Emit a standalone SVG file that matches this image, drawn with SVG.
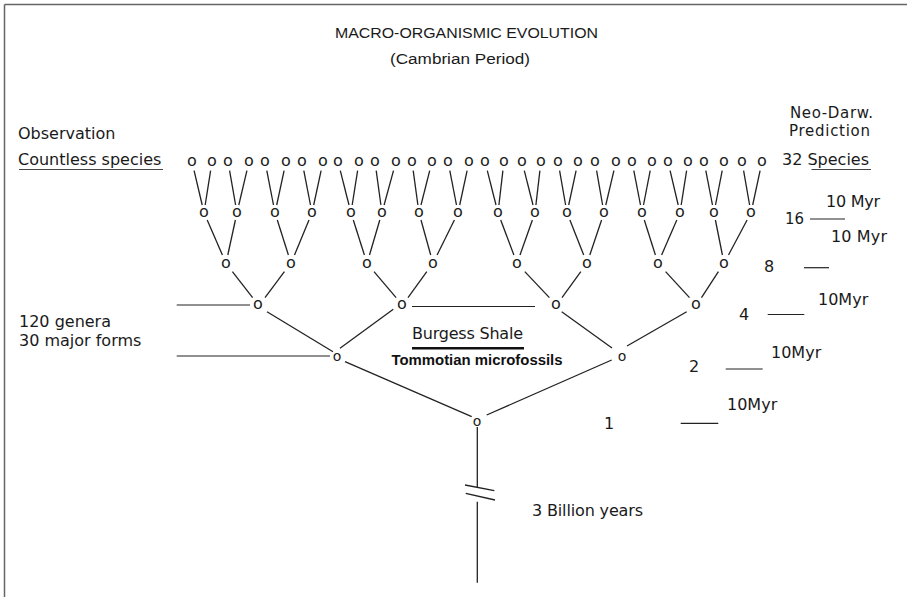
<svg xmlns="http://www.w3.org/2000/svg" width="907" height="597" viewBox="0 0 907 597">
<style>
.t{font-family:"DejaVu Sans",sans-serif;font-size:16px;fill:#1a1a1a}
.ti{font-family:"Liberation Sans",Arial,sans-serif;font-size:15.5px;fill:#1a1a1a}
.b{font-family:"Liberation Sans",Arial,sans-serif;font-size:14.5px;font-weight:bold;fill:#111}
.n{font-family:"DejaVu Sans",sans-serif;font-size:16px;fill:#1a1a1a;text-anchor:middle}
.ns{font-family:"DejaVu Sans",sans-serif;font-size:14px;fill:#1a1a1a;text-anchor:middle}
.e line{stroke:#222;stroke-width:1.3;fill:none}
.r line{stroke:#222;stroke-width:1.2}
.u{stroke:#444;stroke-width:1}
</style>
<rect width="907" height="597" fill="#fff"/>
<g id="border" stroke="#666" stroke-width="1.5" fill="none">
<line x1="4.5" y1="4.5" x2="907" y2="4.5"/>
<line x1="4.5" y1="4.5" x2="4.5" y2="597"/>
</g>
<g id="title">
<text class="ti" x="335" y="38" textLength="263" lengthAdjust="spacingAndGlyphs">MACRO-ORGANISMIC EVOLUTION</text>
<text class="ti" x="390" y="64" textLength="140" lengthAdjust="spacingAndGlyphs">(Cambrian Period)</text>
</g>
<g id="labels-left">
<text class="t" x="18" y="139">Observation</text>
<text class="t" x="18" y="165">Countless species</text>
<line class="u" x1="19" y1="169.5" x2="163" y2="169.5"/>
<text class="t" x="19" y="327">120 genera</text>
<text class="t" x="19" y="346">30 major forms</text>
</g>
<g id="labels-right">
<text class="t" x="790" y="118" style="font-size:15px" textLength="83">Neo-Darw.</text>
<text class="t" x="789" y="136" style="font-size:15px" textLength="81">Prediction</text>
<text class="t" x="782" y="165">32 <tspan>Species</tspan></text>
<line class="u" x1="811.5" y1="169.5" x2="871" y2="169.5"/>
<text class="t" x="826" y="207" textLength="54">10 Myr</text>
<text class="t" x="785" y="223.5" textLength="19" lengthAdjust="spacingAndGlyphs">16</text>
<text class="t" x="831" y="242" textLength="56">10 Myr</text>
<text class="t" x="764" y="271.5">8</text>
<text class="t" x="818" y="305">10Myr</text>
<text class="t" x="739" y="320">4</text>
<text class="t" x="771" y="357.5">10Myr</text>
<text class="t" x="689" y="372">2</text>
<text class="t" x="727" y="410">10Myr</text>
<text class="t" x="604" y="428.5">1</text>
<text class="t" x="532" y="516" textLength="111">3 Billion years</text>
</g>
<g id="labels-mid">
<text class="t" x="412" y="338.5" textLength="111">Burgess Shale</text>
<line x1="412" y1="348.3" x2="524" y2="348.3" stroke="#111" stroke-width="2.5"/>
<text class="b" x="391.5" y="365" textLength="171" lengthAdjust="spacingAndGlyphs">Tommotian microfossils</text>
</g>
<g id="connectors">
<g class="r">
<line x1="810" y1="219" x2="845" y2="219"/>
<line x1="804" y1="267.7" x2="829" y2="267.7"/>
<line x1="767.7" y1="314.5" x2="804.3" y2="314.5"/>
<line x1="725.7" y1="369" x2="762.7" y2="369"/>
<line x1="680.7" y1="423.3" x2="718.3" y2="423.3"/>
<line x1="176.7" y1="305" x2="250" y2="305" stroke-width="2"/>
<line x1="176.7" y1="356" x2="330" y2="356" stroke-width="1.1"/>
<line x1="412" y1="306.5" x2="535" y2="306.5" stroke="#555" stroke-width="1"/>
</g>
<g class="e">
<line x1="194.1" y1="170.7" x2="202.2" y2="205"/>
<line x1="210.6" y1="170.7" x2="205.2" y2="205"/>
<line x1="229.6" y1="170.7" x2="235.6" y2="205"/>
<line x1="246.9" y1="170.7" x2="238.8" y2="205"/>
<line x1="266.8" y1="170.7" x2="273.5" y2="205"/>
<line x1="284.1" y1="170.7" x2="276.7" y2="205"/>
<line x1="303.8" y1="170.7" x2="310.5" y2="205"/>
<line x1="321.1" y1="170.7" x2="313.7" y2="205"/>
<line x1="340.3" y1="170.7" x2="349" y2="205"/>
<line x1="357.6" y1="170.7" x2="352.2" y2="205"/>
<line x1="376.2" y1="170.7" x2="380.9" y2="205"/>
<line x1="393.5" y1="170.7" x2="384.1" y2="205"/>
<line x1="413.2" y1="170.7" x2="417.9" y2="205"/>
<line x1="429.7" y1="170.7" x2="421" y2="205"/>
<line x1="449.8" y1="170.7" x2="456.5" y2="205"/>
<line x1="467.1" y1="170.7" x2="459.7" y2="205"/>
<line x1="487.3" y1="170.7" x2="496" y2="205"/>
<line x1="502.9" y1="170.7" x2="498.9" y2="205"/>
<line x1="524.3" y1="170.7" x2="533" y2="205"/>
<line x1="539.9" y1="170.7" x2="535.9" y2="205"/>
<line x1="559.6" y1="170.7" x2="565.6" y2="205"/>
<line x1="576.1" y1="170.7" x2="568.7" y2="205"/>
<line x1="596.6" y1="170.7" x2="602.6" y2="205"/>
<line x1="613.9" y1="170.7" x2="605.8" y2="205"/>
<line x1="633.8" y1="170.7" x2="640.5" y2="205"/>
<line x1="650.2" y1="170.7" x2="643.5" y2="205"/>
<line x1="670.1" y1="170.7" x2="678.2" y2="205"/>
<line x1="686.6" y1="170.7" x2="681.2" y2="205"/>
<line x1="705.8" y1="170.7" x2="712.5" y2="205"/>
<line x1="722.2" y1="170.7" x2="715.5" y2="205"/>
<line x1="743.6" y1="170.7" x2="749.6" y2="205"/>
<line x1="760.1" y1="170.7" x2="752.7" y2="205"/>
<line x1="207.2" y1="220" x2="222.4" y2="255"/>
<line x1="235.4" y1="220" x2="227.8" y2="255"/>
<line x1="277.3" y1="220" x2="288.4" y2="255"/>
<line x1="309" y1="220" x2="294.5" y2="255"/>
<line x1="353.3" y1="220" x2="364.4" y2="255"/>
<line x1="379.8" y1="220" x2="369.5" y2="255"/>
<line x1="421" y1="220" x2="430.7" y2="255"/>
<line x1="454.4" y1="220" x2="437.1" y2="255"/>
<line x1="500.7" y1="220" x2="513.9" y2="255"/>
<line x1="532.4" y1="220" x2="520" y2="255"/>
<line x1="569.9" y1="220" x2="583.7" y2="255"/>
<line x1="601.6" y1="220" x2="589.8" y2="255"/>
<line x1="644.3" y1="220" x2="655.4" y2="255"/>
<line x1="676.8" y1="220" x2="661.6" y2="255"/>
<line x1="715.4" y1="220" x2="722.4" y2="255"/>
<line x1="747.1" y1="220" x2="728.5" y2="255"/>
<line x1="232.4" y1="271.6" x2="252.6" y2="297.6"/>
<line x1="284.4" y1="271.6" x2="265" y2="297.6"/>
<line x1="374" y1="271.6" x2="396.1" y2="297.6"/>
<line x1="426.8" y1="271.6" x2="408" y2="297.6"/>
<line x1="524.8" y1="271.6" x2="549.4" y2="297.6"/>
<line x1="580.8" y1="271.6" x2="562" y2="297.6"/>
<line x1="665.6" y1="271.6" x2="689.5" y2="297.6"/>
<line x1="718.4" y1="271.6" x2="701.5" y2="297.6"/>
<line x1="267" y1="311.7" x2="333" y2="351.7"/>
<line x1="393.3" y1="309.3" x2="340" y2="348.3"/>
<line x1="561.7" y1="311.7" x2="612" y2="348"/>
<line x1="686.7" y1="311.7" x2="627" y2="346"/>
<line x1="345" y1="361.7" x2="471.7" y2="416.7"/>
<line x1="611.7" y1="360" x2="486.7" y2="415"/>
<line x1="477.3" y1="427" x2="477.3" y2="487.5"/>
<line x1="477.3" y1="501.7" x2="477.3" y2="582.7"/>
<line x1="465" y1="485" x2="494.3" y2="490.7"/>
<line x1="465.7" y1="493.3" x2="495" y2="500"/>
</g>
</g>
<g id="nodes">
<g id="s1"><text class="n" x="192" y="166">o</text></g>
<g id="s2"><text class="n" x="212" y="166">o</text></g>
<g id="s3"><text class="n" x="228" y="166">o</text></g>
<g id="s4"><text class="n" x="249" y="166">o</text></g>
<g id="s5"><text class="n" x="265" y="166">o</text></g>
<g id="s6"><text class="n" x="286" y="166">o</text></g>
<g id="s7"><text class="n" x="302" y="166">o</text></g>
<g id="s8"><text class="n" x="323" y="166">o</text></g>
<g id="s9"><text class="n" x="338" y="166">o</text></g>
<g id="s10"><text class="n" x="359" y="166">o</text></g>
<g id="s11"><text class="n" x="375" y="166">o</text></g>
<g id="s12"><text class="n" x="396" y="166">o</text></g>
<g id="s13"><text class="n" x="412" y="166">o</text></g>
<g id="s14"><text class="n" x="432" y="166">o</text></g>
<g id="s15"><text class="n" x="448" y="166">o</text></g>
<g id="s16"><text class="n" x="469" y="166">o</text></g>
<g id="s17"><text class="n" x="485" y="166">o</text></g>
<g id="s18"><text class="n" x="504" y="166">o</text></g>
<g id="s19"><text class="n" x="522" y="166">o</text></g>
<g id="s20"><text class="n" x="541" y="166">o</text></g>
<g id="s21"><text class="n" x="558" y="166">o</text></g>
<g id="s22"><text class="n" x="578" y="166">o</text></g>
<g id="s23"><text class="n" x="595" y="166">o</text></g>
<g id="s24"><text class="n" x="616" y="166">o</text></g>
<g id="s25"><text class="n" x="632" y="166">o</text></g>
<g id="s26"><text class="n" x="652" y="166">o</text></g>
<g id="s27"><text class="n" x="668" y="166">o</text></g>
<g id="s28"><text class="n" x="688" y="166">o</text></g>
<g id="s29"><text class="n" x="704" y="166">o</text></g>
<g id="s30"><text class="n" x="724" y="166">o</text></g>
<g id="s31"><text class="n" x="742" y="166">o</text></g>
<g id="s32"><text class="n" x="762" y="166">o</text></g>
<g id="p1"><text class="n" x="204" y="217">o</text></g>
<g id="p2"><text class="n" x="237" y="217">o</text></g>
<g id="p3"><text class="n" x="275" y="217">o</text></g>
<g id="p4"><text class="n" x="312" y="217">o</text></g>
<g id="p5"><text class="n" x="351" y="217">o</text></g>
<g id="p6"><text class="n" x="382" y="217">o</text></g>
<g id="p7"><text class="n" x="419" y="217">o</text></g>
<g id="p8"><text class="n" x="458" y="217">o</text></g>
<g id="p9"><text class="n" x="498" y="217">o</text></g>
<g id="p10"><text class="n" x="535" y="217">o</text></g>
<g id="p11"><text class="n" x="567" y="217">o</text></g>
<g id="p12"><text class="n" x="604" y="217">o</text></g>
<g id="p13"><text class="n" x="642" y="217">o</text></g>
<g id="p14"><text class="n" x="680" y="217">o</text></g>
<g id="p15"><text class="n" x="714" y="217">o</text></g>
<g id="p16"><text class="n" x="751" y="217">o</text></g>
<g id="q1"><text class="n" x="226" y="267.7">o</text></g>
<g id="q2"><text class="n" x="291" y="267.7">o</text></g>
<g id="q3"><text class="n" x="367" y="267.7">o</text></g>
<g id="q4"><text class="n" x="433" y="267.7">o</text></g>
<g id="q5"><text class="n" x="517" y="267.7">o</text></g>
<g id="q6"><text class="n" x="587" y="267.7">o</text></g>
<g id="q7"><text class="n" x="658" y="267.7">o</text></g>
<g id="q8"><text class="n" x="724" y="267.7">o</text></g>
<g id="g1"><text class="n" x="258" y="309.4">o</text></g>
<g id="g2"><text class="n" x="402" y="309.4">o</text></g>
<g id="g3"><text class="n" x="556" y="309.4">o</text></g>
<g id="g4"><text class="n" x="696" y="309.4">o</text></g>
<g id="f1"><text class="ns" x="337" y="361.1">o</text></g>
<g id="f2"><text class="ns" x="622" y="361.1">o</text></g>
<g id="root"><text class="ns" x="477" y="425.5">o</text></g>
</g>
</svg>
